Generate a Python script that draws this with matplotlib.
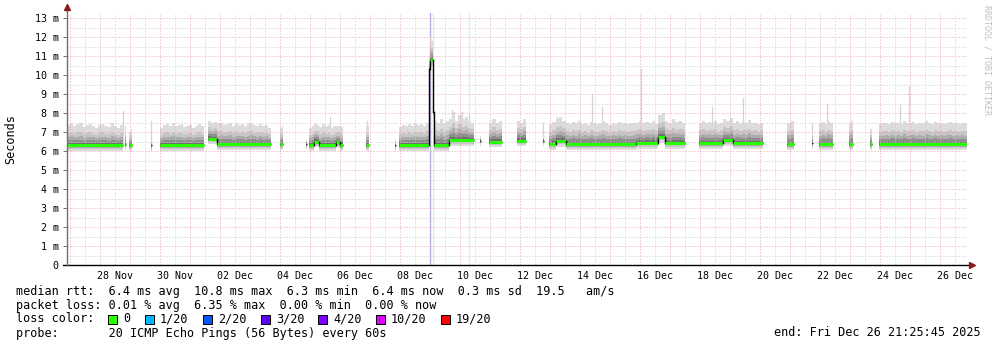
import matplotlib
matplotlib.use("Agg")
import matplotlib.pyplot as plt
import matplotlib.dates as mdates
from matplotlib.patches import Rectangle
import numpy as np
import pandas as pd

W, H = 997, 347
t0 = pd.Timestamp("2025-11-26 21:25:45")
t1 = pd.Timestamp("2025-12-26 21:25:45")

# smoke segments: start, end, median rtt (ms), top ping (ms)
seg_start = ["2025-11-26 21:25:45", "2025-11-28 19:26", "2025-11-28 23:02", "2025-11-29 16:14",
             "2025-11-29 23:50", "2025-12-01 14:14", "2025-12-01 21:26", "2025-12-03 23:50",
             "2025-12-04 20:38", "2025-12-04 23:02", "2025-12-05 03:02", "2025-12-05 07:02",
             "2025-12-05 20:38", "2025-12-05 23:50", "2025-12-06 20:38", "2025-12-07 19:50",
             "2025-12-07 23:02", "2025-12-08 23:02", "2025-12-08 23:50", "2025-12-09 01:50",
             "2025-12-09 02:38", "2025-12-09 15:02", "2025-12-10 15:26", "2025-12-10 23:02",
             "2025-12-11 21:26", "2025-12-12 17:50", "2025-12-12 23:02", "2025-12-13 04:24",
             "2025-12-13 12:24", "2025-12-15 20:38", "2025-12-16 14:14", "2025-12-16 19:50",
             "2025-12-17 23:02", "2025-12-18 18:14", "2025-12-19 02:14", "2025-12-20 21:26",
             "2025-12-21 17:02", "2025-12-21 23:02", "2025-12-22 23:02", "2025-12-23 15:50",
             "2025-12-23 23:02"]
seg_end = ["2025-11-28 18:15", "2025-11-28 20:38", "2025-11-29 01:26", "2025-11-29 17:02",
           "2025-12-01 11:02", "2025-12-01 21:26", "2025-12-03 16:38", "2025-12-04 02:14",
           "2025-12-04 21:26", "2025-12-05 03:02", "2025-12-05 07:02", "2025-12-05 20:38",
           "2025-12-05 23:50", "2025-12-06 02:14", "2025-12-06 23:02", "2025-12-07 20:38",
           "2025-12-08 23:02", "2025-12-08 23:50", "2025-12-09 01:50", "2025-12-09 02:38",
           "2025-12-09 15:02", "2025-12-10 11:02", "2025-12-10 16:14", "2025-12-11 09:26",
           "2025-12-12 04:38", "2025-12-12 18:38", "2025-12-13 04:24", "2025-12-13 12:24",
           "2025-12-15 20:38", "2025-12-16 14:14", "2025-12-16 19:50", "2025-12-17 11:50",
           "2025-12-18 18:14", "2025-12-19 02:14", "2025-12-20 02:14", "2025-12-21 03:02",
           "2025-12-21 17:50", "2025-12-22 10:14", "2025-12-23 02:14", "2025-12-23 17:26",
           "2025-12-26 21:25:45"]
seg_median = [6.3, 6.35, 6.3, 6.3,
              6.3, 6.65, 6.35, 6.35,
              6.35, 6.3, 6.5, 6.3,
              6.45, 6.3, 6.3, 6.3,
              6.3, 10.3, 10.8, 8.05,
              6.3, 6.58, 6.55, 6.5,
              6.55, 6.55, 6.37, 6.53,
              6.35, 6.42, 6.74, 6.42,
              6.4, 6.56, 6.4, 6.35,
              6.4, 6.35, 6.35, 6.35,
              6.35]
seg_top = [
    [7.35, 7.45, 7.3, 7.4, 7.45, 7.25, 7.35, 7.4, 7.3, 7.2, 7.35, 7.4, 7.3, 7.25, 7.45, 7.3, 7.2, 7.35],
    [7.3], [7.0, 7.15], [6.6],
    [7.2, 7.35, 7.4, 7.3, 7.45, 7.3, 7.35, 7.4, 7.25, 7.3, 7.35, 7.2, 7.3, 7.4, 7.3],
    [7.6, 7.5, 7.55],
    [7.45, 7.5, 7.35, 7.4, 7.5, 7.3, 7.45, 7.35, 7.4, 7.3, 7.45, 7.5, 7.35, 7.3, 7.4, 7.3, 7.35, 7.2],
    [7.2, 7.3], [6.6],
    [7.2, 7.3], [7.4, 7.35], [7.25, 7.4, 7.3, 7.35, 7.2, 7.3], [7.3], [7.25],
    [7.3], [6.6],
    [7.25, 7.35, 7.3, 7.4, 7.3, 7.45, 7.35, 7.4, 7.3, 7.5],
    [11.0], [12.0, 11.8], [8.3],
    [7.6, 7.5, 7.7, 7.45, 7.6],
    [7.7, 8.05, 7.6, 7.9, 7.7, 7.8, 7.6, 7.5],
    [6.8],
    [7.5, 7.7, 7.45, 7.6],
    [7.6, 7.5, 7.7], [6.8],
    [7.4, 7.55], [7.7, 7.8, 7.6],
    [7.5, 7.4, 7.55, 7.45, 7.6, 7.4, 7.5, 7.35, 7.55, 7.45, 7.4, 7.5, 7.6, 7.45, 7.35, 7.5,
     7.4, 7.55, 7.45, 7.5, 7.4, 7.45, 7.5],
    [7.5, 7.6, 7.45, 7.55, 7.5, 7.6, 7.4], [7.9, 8.0],
    [7.6, 7.5, 7.7, 7.55, 7.6, 7.5],
    [7.5, 7.6, 7.45, 7.55, 7.5, 7.6, 7.4, 7.5], [7.7, 7.6, 7.75],
    [7.5, 7.6, 7.45, 7.55, 7.5, 7.65, 7.45, 7.5, 7.4, 7.5],
    [7.5, 7.6], [7.0], [7.45, 7.55, 7.4, 7.6, 7.5], [7.5, 7.6], [7.15],
    [7.4, 7.45, 7.5, 7.4, 7.55, 7.45, 7.5, 7.4, 7.6, 7.45, 7.5, 7.55, 7.4, 7.5, 7.45, 7.6,
     7.5, 7.4, 7.55, 7.45, 7.5, 7.4, 7.5, 7.55, 7.45, 7.5, 7.4, 7.5, 7.45],
]

# single high pings sticking out of the smoke
spike_time = ["2025-11-28 18:00", "2025-11-29 16:38", "2025-12-05 15:50", "2025-12-06 21:26",
              "2025-12-09 17:26", "2025-12-10 01:26", "2025-12-10 07:02", "2025-12-11 03:02",
              "2025-12-12 18:14", "2025-12-13 05:26", "2025-12-14 09:26", "2025-12-14 17:26",
              "2025-12-16 00:38", "2025-12-18 09:26", "2025-12-19 10:14", "2025-12-21 17:26",
              "2025-12-22 05:26", "2025-12-24 15:50", "2025-12-24 23:02"]
spike_value = [8.1, 7.6, 7.8, 7.6,
               8.15, 8.05, 7.9, 7.7,
               7.5, 7.8, 8.95, 8.3,
               10.3, 8.3, 8.8, 7.45,
               8.5, 8.4, 9.4]

# packet loss markers
loss_time = ["2025-12-08 23:50", "2025-12-09 02:30", "2025-12-10 07:18"]
loss_color = ["#9db0ff", "#cdeeff", "#d6f1ff"]

legend_labels = ["0", "1/20", "2/20", "3/20", "4/20", "10/20", "19/20"]
legend_colors = ["#26ff00", "#00b8ff", "#0059ff", "#5e00ff", "#7e00ff", "#dd00ff", "#ff0000"]

layer_frac = [1.0, 0.62, 0.42, 0.26, 0.12]
layer_color = ["#dcdcdc", "#c6c6c6", "#acacac", "#8e8e8e", "#707070"]

mono = "DejaVu Sans Mono"

fig = plt.figure(figsize=(W / 100, H / 100), dpi=100)
fig.patch.set_facecolor("white")
ax = fig.add_axes([67 / W, (H - 265) / H, 900 / W, 252 / H])
ax.set_xlim(mdates.date2num(t0), mdates.date2num(t1))
ax.set_ylim(0, 252 / 19)
for s in ax.spines.values():
    s.set_visible(False)

# grid (rrdtool draws it on top of the graph)
days = pd.date_range("2025-11-27", "2025-12-26", freq="D")
for d in days:
    ax.axvline(mdates.date2num(d), color="#e4a8a8", lw=0.72, ls=(0, (1, 2)), zorder=4)
    ax.axvline(mdates.date2num(d + pd.Timedelta(hours=12)), color="#cccccc", lw=0.72,
               ls=(0, (1, 2)), zorder=4)
ax.axvline(mdates.date2num(pd.Timestamp("2025-11-26 12:00")), color="#cccccc", lw=0.72,
           ls=(0, (1, 2)), zorder=4)
for v in range(1, 14):
    ax.axhline(v, color="#e4a8a8", lw=0.72, ls=(0, (1, 2)), zorder=4)
    ax.axhline(v - 0.5, color="#cccccc", lw=0.72, ls=(0, (1, 2)), zorder=4)

for t, c in zip(loss_time, loss_color):
    ax.axvline(mdates.date2num(pd.Timestamp(t)), color=c, lw=1.0, zorder=1)

# smoke
for s, e, m, tops in zip(seg_start, seg_end, seg_median, seg_top):
    x = mdates.date2num(pd.date_range(s, e, periods=len(tops) + 1))
    top = np.append(tops, tops[-1])
    for f, c in zip(layer_frac, layer_color):
        ax.fill_between(x, m - 0.3 * f, m + (top - m) * f, step="post", color=c, lw=0, zorder=2)

for t, v in zip(spike_time, spike_value):
    xt = mdates.date2num(pd.Timestamp(t))
    ax.plot([xt, xt], [6.4, v], color="#d4d4d4", lw=0.9, zorder=1.9)

# median line
for i, (s, e, m) in enumerate(zip(seg_start, seg_end, seg_median)):
    xs, xe = mdates.date2num(pd.Timestamp(s)), mdates.date2num(pd.Timestamp(e))
    ax.plot([xs, xe], [m, m], color="black", lw=1.0, zorder=5, solid_capstyle="butt")
    if xe - xs > 0.05:
        ax.plot([xs, xe], [m, m], color="#26ff00", lw=2.2, zorder=6, solid_capstyle="butt")
    if i + 1 < len(seg_start) and seg_start[i + 1] == e:
        ax.plot([xe, xe], [m, seg_median[i + 1]], color="black", lw=1.0, zorder=6)

# axes with arrows
ax.plot([-4 / 900, 905 / 900], [0, 0], transform=ax.transAxes, color="black", lw=1.0,
        clip_on=False, zorder=7)
ax.plot([905 / 900], [0], transform=ax.transAxes, marker=">", ms=4, color="#8b1a1a",
        clip_on=False, zorder=8)
ax.plot([0, 0], [0, 1.01], transform=ax.transAxes, color="#707070", lw=1.0,
        clip_on=False, zorder=7)
ax.plot([0], [1.022], transform=ax.transAxes, marker="^", ms=4, color="#8b1a1a",
        clip_on=False, zorder=8)

ax.set_yticks(range(14))
ax.set_yticklabels(["0"] + [f"{v} m" for v in range(1, 14)], family=mono, fontsize=7.2)
ax.tick_params(axis="y", length=3, width=0.7, color="#707070", pad=3)

label_days = pd.date_range("2025-11-28 12:00", periods=15, freq="2D")
ax.set_xticks(mdates.date2num(label_days))
ax.set_xticklabels([d.strftime("%d %b") for d in label_days], family=mono, fontsize=7.2)
ax.tick_params(axis="x", length=0, pad=4)

fig.text(11 / W, 1 - 139 / H, "Seconds", family=mono, fontsize=8.5, rotation=90,
         ha="center", va="center")
fig.text(987 / W, 1 - 60 / H, "RRDTOOL / TOBI OETIKER", family=mono, fontsize=6,
         rotation=-90, ha="center", va="center", color="#c0c0c0")

fig.text(16 / W, 1 - 291.5 / H,
         "median rtt:  6.4 ms avg  10.8 ms max  6.3 ms min  6.4 ms now  0.3 ms sd  19.5   am/s",
         family=mono, fontsize=8.5, va="center")
fig.text(16 / W, 1 - 305 / H,
         "packet loss: 0.01 % avg  6.35 % max  0.00 % min  0.00 % now",
         family=mono, fontsize=8.5, va="center")
fig.text(16 / W, 1 - 319 / H, "loss color:", family=mono, fontsize=8.5, va="center")
sq_x = [108, 145, 203, 261, 318, 376, 441]
for xpx, lab, col in zip(sq_x, legend_labels, legend_colors):
    fig.add_artist(Rectangle((xpx / W, 1 - 323.5 / H), 8.5 / W, 8.5 / H, transform=fig.transFigure,
                             facecolor=col, edgecolor="black", lw=0.7))
    fig.text((xpx + 15) / W, 1 - 319 / H, lab, family=mono, fontsize=8.5, va="center")
fig.text(16 / W, 1 - 333 / H, "probe:       20 ICMP Echo Pings (56 Bytes) every 60s",
         family=mono, fontsize=8.5, va="center")
fig.text(981 / W, 1 - 333 / H, "end: Fri Dec 26 21:25:45 2025", family=mono, fontsize=8.5,
         va="center", ha="right")

fig.savefig("out.png", dpi=100, facecolor="white")
